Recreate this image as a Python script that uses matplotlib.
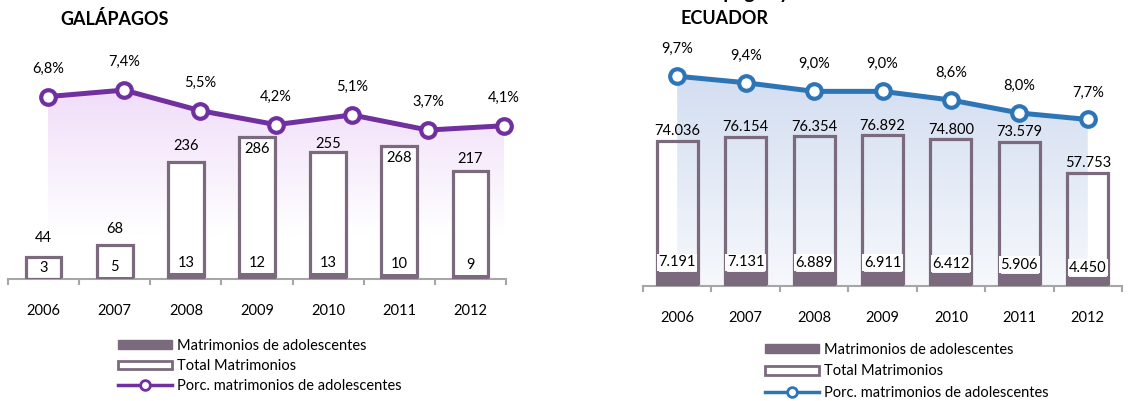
import matplotlib
matplotlib.use("Agg")
import matplotlib.pyplot as plt
import numpy as np
from matplotlib.patches import Polygon, Patch
from matplotlib.lines import Line2D
from matplotlib.colors import to_rgb

plt.rcParams['font.family'] = ['Lato', 'DejaVu Sans']

years = ["2006", "2007", "2008", "2009", "2010", "2011", "2012"]

gal_total = [44, 68, 236, 286, 255, 268, 217]
gal_teen = [3, 5, 13, 12, 13, 10, 9]
gal_pct = [6.8, 7.4, 5.5, 4.2, 5.1, 3.7, 4.1]

ecu_total = [74036, 76154, 76354, 76892, 74800, 73579, 57753]
ecu_teen = [7191, 7131, 6889, 6911, 6412, 5906, 4450]
ecu_pct = [9.7, 9.4, 9.0, 9.0, 8.6, 8.0, 7.7]

legend_labels = ["Matrimonios de adolescentes", "Total Matrimonios",
                 "Porc. matrimonios de adolescentes"]

W, H = 1145, 401
BAR_COLOR = "#7B6A7E"
AXIS_GRAY = "#A6A6A6"
PURPLE = "#7030A0"
BLUE = "#2E75B6"


def px_rect(x0, y0, x1, y1):
    return [x0 / W, 1 - y1 / H, (x1 - x0) / W, (y1 - y0) / H]


def fmt_miles(v):
    return f"{v:,}".replace(",", ".")


def fmt_pct(v):
    return f"{v:.1f}%".replace(".", ",")


def gradient_fill(ax, x, y, y0, top, bottom):
    verts = [(x[0], y0)] + list(zip(x, y)) + [(x[-1], y0)]
    poly = Polygon(verts, closed=True, facecolor="none", edgecolor="none")
    ax.add_patch(poly)
    t = np.linspace(0, 1, 256).reshape(-1, 1, 1)
    c0 = np.array(to_rgb(top)).reshape(1, 1, 3)
    c1 = np.array(to_rgb(bottom)).reshape(1, 1, 3)
    img = c0 * (1 - t) + c1 * t
    im = ax.imshow(img, extent=[x[0], x[-1], y0, max(y)], aspect="auto",
                   origin="upper", zorder=0, interpolation="bilinear")
    im.set_clip_path(poly)


def panel(rect, bar_ylim, line_xlim, line_ylim, fill_y0, total, teen, pct,
          color, fill_top, fill_bottom, bar_width, bar_face, total_dy, pct_dy):
    x = np.arange(len(years))

    ax_bg = fig.add_axes(rect)
    ax_bar = fig.add_axes(rect)
    ax_line = fig.add_axes(rect)
    for a in (ax_bg, ax_line):
        a.set_xlim(*line_xlim)
        a.set_ylim(*line_ylim)
        a.axis("off")
    ax_line.patch.set_visible(False)
    ax_bar.patch.set_visible(False)

    gradient_fill(ax_bg, x, pct, fill_y0, fill_top, fill_bottom)
    ax_bg.set_xlim(*line_xlim)
    ax_bg.set_ylim(*line_ylim)

    # total marriages as outlined bars, teen marriages as solid bars
    ax_bar.bar(x, total, width=bar_width, facecolor=bar_face,
               edgecolor=BAR_COLOR, linewidth=2.3, zorder=2)
    ax_bar.bar(x, teen, width=bar_width + 0.03, color=BAR_COLOR,
               linewidth=0, zorder=3)
    ax_bar.set_xlim(-0.5, len(years) - 0.5)
    ax_bar.set_ylim(*bar_ylim)

    for i in range(len(years)):
        ax_bar.annotate(fmt_miles(total[i]), (x[i], total[i]),
                        xytext=(0, total_dy[i]), textcoords="offset points",
                        ha="center", va="center", fontsize=10.5, zorder=5)
        ax_bar.annotate(fmt_miles(teen[i]), (x[i], teen[i]),
                        xytext=(0, 7), textcoords="offset points",
                        ha="center", va="center", fontsize=10.5, zorder=5,
                        bbox=dict(boxstyle="square,pad=0.1", fc="white",
                                  ec="none"))

    for s in ("top", "left", "right"):
        ax_bar.spines[s].set_visible(False)
    ax_bar.spines["bottom"].set_color(AXIS_GRAY)
    ax_bar.spines["bottom"].set_linewidth(1.5)
    ax_bar.set_yticks([])
    ax_bar.set_xticks(x)
    ax_bar.set_xticklabels(years, fontsize=10.5)
    ax_bar.set_xticks(np.arange(len(years) + 1) - 0.5, minor=True)
    ax_bar.tick_params(axis="x", which="major", length=0, pad=18)
    ax_bar.tick_params(axis="x", which="minor", length=4, width=1.5,
                       color=AXIS_GRAY, direction="out")

    ax_line.plot(x, pct, color=color, linewidth=3.6, marker="o",
                 markersize=10.5, markerfacecolor="white",
                 markeredgecolor=color, markeredgewidth=3, zorder=4,
                 clip_on=False)
    for i in range(len(years)):
        ax_line.annotate(fmt_pct(pct[i]), (x[i], pct[i]),
                         xytext=(0, pct_dy), textcoords="offset points",
                         ha="center", va="center", fontsize=10.5)


def legend(x0, y0, color, spacing):
    handles = [
        Patch(facecolor=BAR_COLOR, edgecolor=BAR_COLOR),
        Patch(facecolor="white", edgecolor=BAR_COLOR, linewidth=2),
        Line2D([0], [0], color=color, linewidth=2.5, marker="o",
               markersize=7, markerfacecolor="white", markeredgewidth=2),
    ]
    fig.legend(handles, legend_labels, loc="upper left",
               bbox_to_anchor=(x0 / W, 1 - y0 / H), frameon=False,
               fontsize=10.5, handlelength=3.7, handleheight=0.55,
               handletextpad=0.35, labelspacing=spacing, borderpad=0,
               borderaxespad=0)


fig = plt.figure(figsize=(W / 100, H / 100), dpi=100)

# Galápagos
panel(px_rect(8, 20, 506, 279), (0, 521), (-0.526, 6.026), (-10.09, 13.89),
      -6.0, gal_total, gal_teen, gal_pct, PURPLE, "#F0DDF9", "#FFFFFF",
      0.5, "white", [14, 12, 11, -9, 6, -9, 9], 20)

# Ecuador
panel(px_rect(643, 20, 1122, 286), (0, 135700), (-0.5, 6.5), (0, 12.3),
      0, ecu_total, ecu_teen, ecu_pct, BLUE, "#D3DEF1", "#F6F8FC",
      0.6, "none", [7, 7, 7, 7, 7, 7, 7], 19.5)

fig.text(60 / W, 1 - 19 / H, "GALÁPAGOS", fontsize=13, fontweight="bold",
         ha="left", va="center")
fig.text(680 / W, 1 - 19 / H, "ECUADOR", fontsize=13, fontweight="bold",
         ha="left", va="center")
fig.text(684 / W, 1 + 1 / H, "Galápagos y", fontsize=14, fontweight="bold",
         ha="left", va="baseline")

legend(118, 339, PURPLE, 0.42)
legend(765, 343, BLUE, 0.5)

fig.savefig("out.png", dpi=100)
